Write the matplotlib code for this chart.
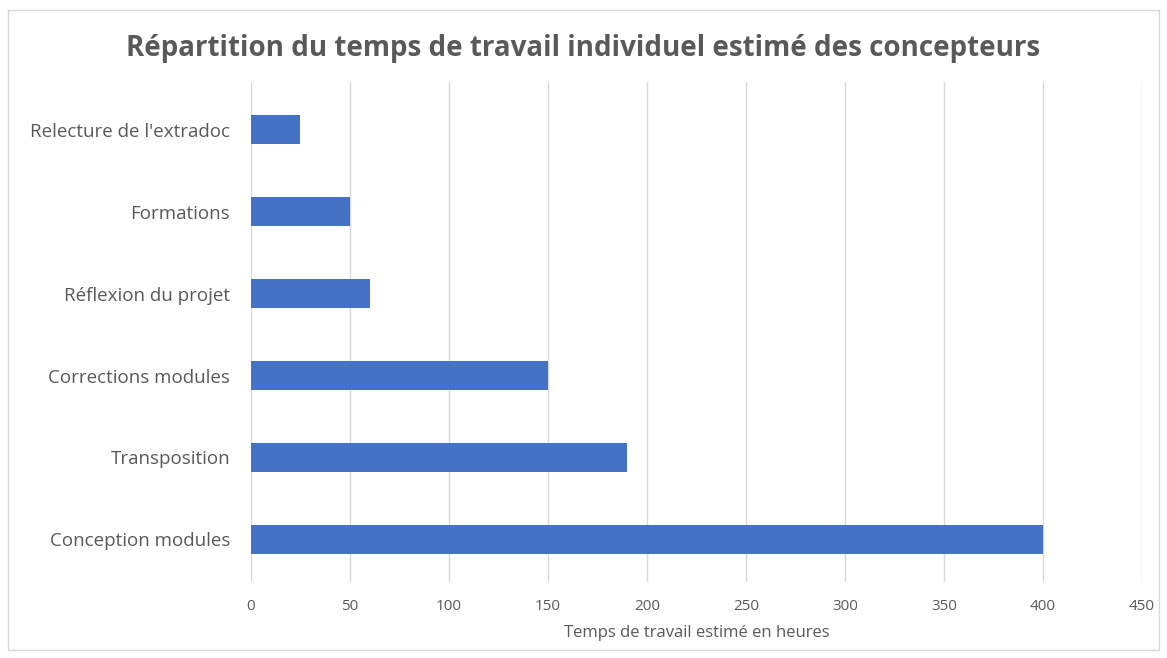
import matplotlib.pyplot as plt
from matplotlib.patches import Rectangle

categories = ['Conception modules', 'Transposition', 'Corrections modules',
              'Réflexion du projet', 'Formations', "Relecture de l'extradoc"]
hours = [400, 190, 150, 60, 50, 25]
x_ticks = [0, 50, 100, 150, 200, 250, 300, 350, 400, 450]

text_color = '#595959'
plt.rcParams['font.family'] = ['Open Sans', 'DejaVu Sans']

fig = plt.figure(figsize=(11.67, 6.58), dpi=100)
ax = fig.add_axes([0.215, 0.1155, 0.7635, 0.7595])

ax.barh(range(len(categories)), hours, height=0.35, color='#4472C4', zorder=3)
ax.set_yticks(range(len(categories)))
ax.set_yticklabels(categories, fontsize=13.5, color=text_color)
ax.set_xticks(x_ticks)
ax.set_xticklabels([str(t) for t in x_ticks], fontsize=11, color=text_color)
ax.set_xlim(0, 450)
ax.set_ylim(-0.52, 5.58)

ax.grid(axis='x', color='#d9d9d9', linewidth=1, zorder=0)
for side in ['top', 'right', 'bottom', 'left']:
    ax.spines[side].set_visible(False)
ax.tick_params(axis='both', length=0)
ax.tick_params(axis='y', pad=15)
ax.tick_params(axis='x', pad=12)

ax.set_xlabel('Temps de travail estimé en heures', fontsize=12, color=text_color, labelpad=8)
fig.text(0.5, 0.927, 'Répartition du temps de travail individuel estimé des concepteurs',
         ha='center', va='center', fontsize=20, fontweight='bold', color=text_color)

fig.patches.append(Rectangle((8 / 1167, 8 / 658), 1 - 16 / 1167, 1 - 18 / 658,
                             transform=fig.transFigure, fill=False,
                             edgecolor='#d9d9d9', linewidth=1))

fig.savefig('out.png', dpi=100)
